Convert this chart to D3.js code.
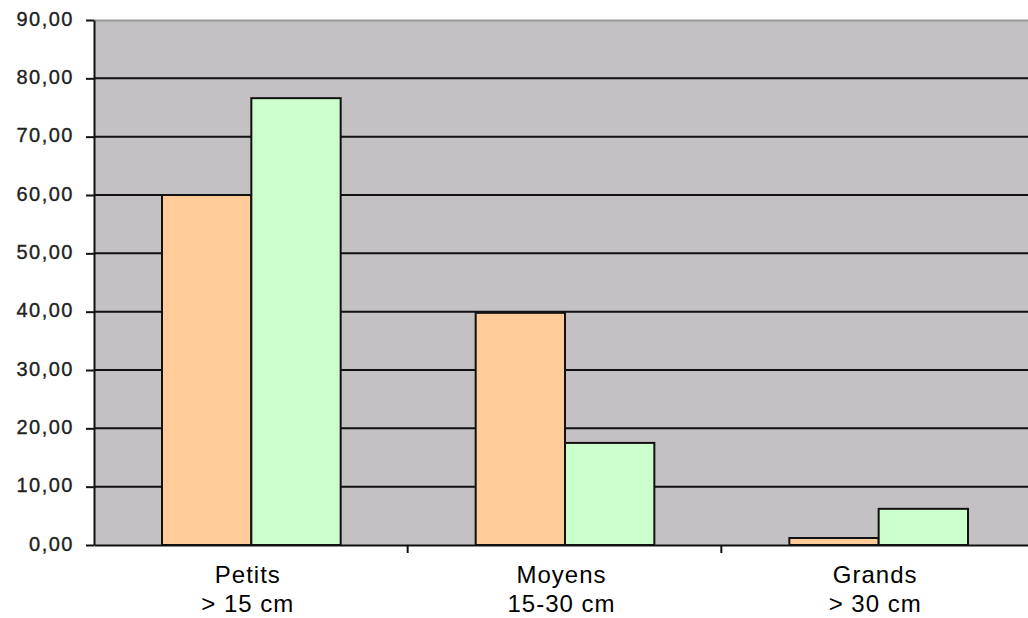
<!DOCTYPE html>
<html>
<head>
<meta charset="utf-8">
<script src="https://cdn.jsdelivr.net/npm/d3@7"></script>
<style>
  html, body { margin: 0; padding: 0; background: #ffffff; }
  svg { display: block; }
</style>
</head>
<body>
<svg id="chart" width="1028" height="618"></svg>
<script>
// Size classes (two-line labels) and the two series per class
const categories = ["Petits", "Moyens", "Grands"];
const categorySub = ["> 15 cm", "15-30 cm", "> 30 cm"];
const seriesA = [60.0, 39.8, 1.2];   // orange
const seriesB = [76.6, 17.5, 6.2];   // green
const yTicks = [0, 10, 20, 30, 40, 50, 60, 70, 80, 90];
const seriesColors = ["#ffcc99", "#ccffcc"];

const svg = d3.select("#chart");
const plot = { left: 94, top: 20, right: 1035, bottom: 545 };

const x = d3.scaleBand()
  .domain(categories)
  .range([plot.left, plot.right])
  .padding(0);

const inner = d3.scaleBand()
  .domain([0, 1])
  .range([68, x.bandwidth() - 67])
  .padding(0);

const y = d3.scaleLinear()
  .domain([0, 90])
  .range([plot.bottom, plot.top]);

// plot background
svg.append("rect")
  .attr("x", plot.left).attr("y", plot.top)
  .attr("width", plot.right - plot.left).attr("height", plot.bottom - plot.top)
  .attr("fill", "#c3c1c3");

// top border of the plot
svg.append("line")
  .attr("x1", plot.left).attr("x2", plot.right)
  .attr("y1", plot.top + 0.5).attr("y2", plot.top + 0.5)
  .attr("stroke", "#999").attr("stroke-width", 2);

// horizontal gridlines
svg.append("g")
  .selectAll("line")
  .data(yTicks.filter(d => d > 0 && d < 90))
  .join("line")
  .attr("x1", plot.left).attr("x2", plot.right)
  .attr("y1", d => y(d)).attr("y2", d => y(d))
  .attr("stroke", "#111").attr("stroke-width", 2);

// bars
const series = [seriesA, seriesB];
const groups = svg.append("g")
  .selectAll("g")
  .data(categories)
  .join("g")
  .attr("transform", d => `translate(${x(d)},0)`);

groups.selectAll("rect")
  .data((d, i) => series.map((s, k) => ({ k, v: s[i] })))
  .join("rect")
  .attr("x", d => inner(d.k))
  .attr("width", inner.bandwidth())
  .attr("y", d => y(d.v))
  .attr("height", d => y(0) - y(d.v))
  .attr("fill", d => seriesColors[d.k])
  .attr("stroke", "#111")
  .attr("stroke-width", 2);

// y axis
const yAxis = svg.append("g")
  .attr("transform", `translate(${plot.left},0)`)
  .call(d3.axisLeft(y).tickValues(yTicks).tickSize(8).tickSizeOuter(0)
    .tickFormat(d => d3.format(".2f")(d).replace(".", ",")));
yAxis.select(".domain").attr("stroke", "#111").attr("stroke-width", 2);
yAxis.selectAll(".tick line").attr("stroke", "#111").attr("stroke-width", 2);
yAxis.selectAll(".tick text")
  .attr("x", -20)
  .attr("dy", "0.25em")
  .attr("fill", "#222")
  .attr("stroke", "#222")
  .attr("stroke-width", 0.35)
  .style("font-family", "Arial, 'Liberation Sans', sans-serif")
  .style("font-size", "20px")
  .style("letter-spacing", "1.5px");

// x axis
const xAxis = svg.append("g")
  .attr("transform", `translate(0,${plot.bottom})`)
  .call(d3.axisBottom(x).tickSize(0).tickSizeOuter(0).tickFormat(""));
xAxis.select(".domain").attr("stroke", "#111").attr("stroke-width", 2);

// category separators on the x axis
svg.append("g")
  .selectAll("line")
  .data(categories.slice(1))
  .join("line")
  .attr("x1", d => x(d)).attr("x2", d => x(d))
  .attr("y1", plot.bottom).attr("y2", plot.bottom + 8)
  .attr("stroke", "#111").attr("stroke-width", 2);

// two-line category labels
const labels = svg.append("g")
  .selectAll("text")
  .data(categories)
  .join("text")
  .attr("text-anchor", "middle")
  .attr("fill", "#000")
  .style("font-family", "Arial, 'Liberation Sans', sans-serif")
  .style("font-size", "24px")
  .style("letter-spacing", "1px");

labels.append("tspan")
  .attr("x", d => x(d) + x.bandwidth() / 2 - 3)
  .attr("y", 583)
  .text(d => d);
labels.append("tspan")
  .attr("x", d => x(d) + x.bandwidth() / 2 - 3)
  .attr("y", 612)
  .text((d, i) => categorySub[i]);
</script>
</body>
</html>
